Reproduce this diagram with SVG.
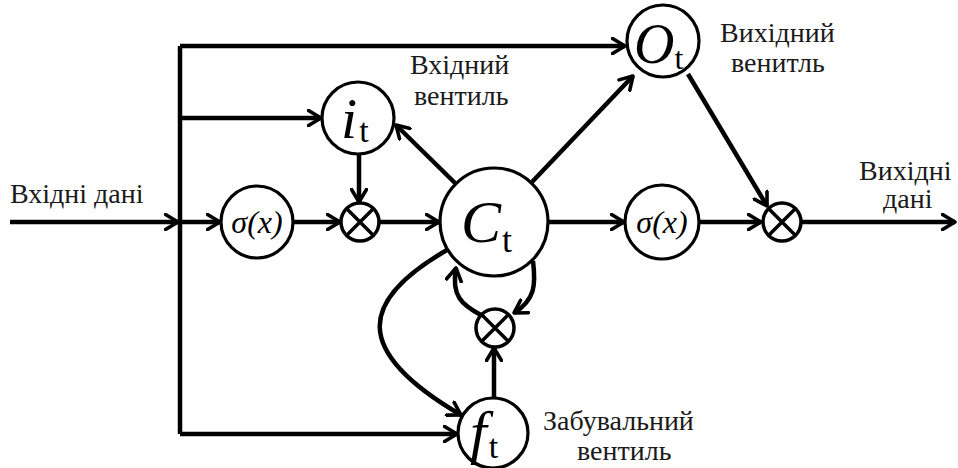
<svg xmlns="http://www.w3.org/2000/svg" width="958" height="468" viewBox="0 0 958 468">
  <defs>
    <marker id="ah" viewBox="0 0 16 18" refX="14" refY="9" markerWidth="16" markerHeight="18" markerUnits="userSpaceOnUse" orient="auto">
      <path d="M1.5,1.5 L14,9 L1.5,16.5" fill="none" stroke="#000" stroke-width="3.6" stroke-linecap="round" stroke-linejoin="round"/>
    </marker>
    <g id="mul">
      <circle r="19" fill="#fff" stroke="#000" stroke-width="3.5"/>
      <path d="M-13,-13 L13,13 M-13,13 L13,-13" stroke="#000" stroke-width="3.5"/>
    </g>
  </defs>
  <style>
    .wire { fill: none; stroke: #000; stroke-width: 4.5; }
    .arr { marker-end: url(#ah); }
    .node { fill: #fff; stroke: #000; stroke-width: 3.2; }
    .lbl { font-size: 28px; fill: #1a1a1a; }
    .sym { font-style: italic; fill: #000; }
    .sub { fill: #000; }
  </style>
  <rect width="958" height="468" fill="#fff"/>

  <!-- connectors -->
  <g id="connectors">
    <path class="wire arr" d="M10,222 H178"/>
    <path class="wire" d="M180,46 V434"/>
    <path class="wire arr" d="M180,222 H220"/>
    <path class="wire arr" d="M180,46 H625"/>
    <path class="wire arr" d="M180,118 H321"/>
    <path class="wire arr" d="M180,434 H457"/>
    <path class="wire arr" d="M293,222 H340"/>
    <path class="wire arr" d="M379,222 H439"/>
    <path class="wire arr" d="M359,154 V202"/>
    <path class="wire arr" d="M455,183 L396,125"/>
    <path class="wire arr" d="M532,182 L633,76"/>
    <path class="wire arr" d="M688,74 L767,206"/>
    <path class="wire arr" d="M548,222 H624"/>
    <path class="wire arr" d="M699,222 H761"/>
    <path class="wire arr" d="M801,222 H955"/>
    <path class="wire arr" d="M447,250 C360,300 350,350 461,415"/>
    <path class="wire arr" d="M481,315 C462,305 451,296 456,268"/>
    <path class="wire arr" d="M533,261 C536,285 535,300 514,313"/>
    <path class="wire arr" d="M494,398 V348"/>
  </g>

  <g font-family="Liberation Serif, Times New Roman, serif">
    <!-- input gate -->
    <g id="node-it">
      <circle class="node" cx="358" cy="118" r="36"/>
      <text x="341" y="138"><tspan class="sym" font-size="58">i</tspan><tspan class="sub" font-size="34" dx="2" dy="4">t</tspan></text>
    </g>

    <!-- output gate -->
    <g id="node-ot">
      <circle class="node" cx="663" cy="41" r="36"/>
      <text x="634" y="63"><tspan class="sym" font-size="56">O</tspan><tspan class="sub" font-size="32" dx="0" dy="6">t</tspan></text>
    </g>

    <!-- cell state -->
    <g id="node-ct">
      <circle class="node" cx="494" cy="222" r="54"/>
      <text x="461" y="242"><tspan class="sym" font-size="60">C</tspan><tspan class="sub" font-size="36" dx="1" dy="10">t</tspan></text>
    </g>

    <!-- forget gate -->
    <g id="node-ft">
      <circle class="node" cx="493" cy="433" r="35"/>
      <text x="470" y="452"><tspan class="sym" font-size="60">f</tspan><tspan class="sub" font-size="34" dx="2" dy="6">t</tspan></text>
    </g>

    <!-- activations -->
    <g id="node-sigma1">
      <circle class="node" cx="257" cy="222" r="36"/>
      <text class="sym" x="257" y="233" font-size="32" text-anchor="middle">σ(x)</text>
    </g>
    <g id="node-sigma2">
      <circle class="node" cx="662" cy="222" r="37"/>
      <text class="sym" x="662" y="233" font-size="32" text-anchor="middle">σ(x)</text>
    </g>

    <!-- labels -->
    <g id="label-input">
      <text class="lbl" x="10" y="203">Вхідні дані</text>
    </g>
    <g id="label-input-gate">
      <text class="lbl" x="410" y="74">Вхідний</text>
      <text class="lbl" x="414" y="105">вентиль</text>
    </g>
    <g id="label-output-gate">
      <text class="lbl" x="720" y="42">Вихідний</text>
      <text class="lbl" x="731" y="72">венитль</text>
    </g>
    <g id="label-output">
      <text class="lbl" x="859" y="180">Вихідні</text>
      <text class="lbl" x="883" y="208">дані</text>
    </g>
    <g id="label-forget-gate">
      <text class="lbl" x="543" y="430">Забувальний</text>
      <text class="lbl" x="577" y="460">вентиль</text>
    </g>
  </g>

  <!-- multipliers -->
  <g id="node-mul1"><use href="#mul" x="360" y="222"/></g>
  <g id="node-mul2"><use href="#mul" x="782" y="222"/></g>
  <g id="node-mul3"><use href="#mul" x="495" y="328"/></g>
</svg>
